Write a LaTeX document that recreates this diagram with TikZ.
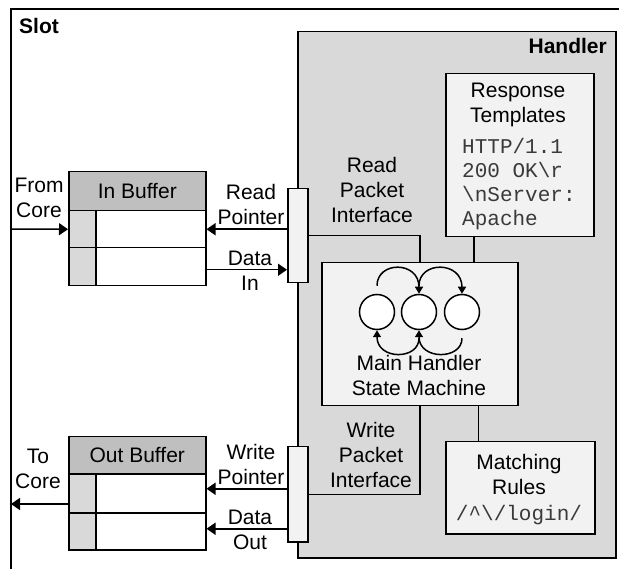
\documentclass[tikz,border=0pt]{standalone}
\usepackage{fontspec}
\setmainfont{Liberation Sans}
\setmonofont{Liberation Mono}
\usetikzlibrary{arrows.meta}
\definecolor{hdrgray}{HTML}{BFBFBF}
\definecolor{midgray}{HTML}{D9D9D9}
\definecolor{palegray}{HTML}{F2F2F2}
\definecolor{codeink}{HTML}{3A3A3A}
\tikzset{
  box/.style={draw, line width=1.5pt, inner sep=0pt, anchor=north west},
  lbl/.style={font=\fontsize{21}{25}\selectfont, align=center, inner sep=0pt},
  title/.style={font=\bfseries\fontsize{21}{25}\selectfont, inner sep=0pt},
  code/.style={font=\ttfamily\fontsize{21}{24}\selectfont, text=codeink, align=left, inner sep=0pt},
  wire/.style={line width=1.5pt},
  arr/.style={line width=1.5pt, -{Triangle[length=9pt,width=12pt]}},
  loopar/.style={line width=1.5pt, -{Triangle[length=7pt,width=8pt]}},
  state/.style={circle, draw, fill=white, line width=1.5pt, minimum size=35pt, inner sep=0pt},
}
\begin{document}
\begin{tikzpicture}[x=1pt,y=-1pt]
\useasboundingbox (0,0) rectangle (619,569);

% slot frame
\coordinate (slotbl) at (11,569);
\coordinate (slottr) at (619,9);
\draw[wire] (slotbl) |- (slottr);
\node[title, anchor=west] (slot) at (19,26) {Slot};

% handler region
\node[box, fill=midgray, minimum width=318pt, minimum height=526pt] (handler) at (297,31) {};
\node[title, anchor=east] (handlerlbl) at (607,46) {Handler};

% in buffer
\node[box, fill=hdrgray, minimum width=137pt, minimum height=39pt, lbl] (inhdr) at (68,171) {In Buffer};
\node[box, fill=midgray, minimum width=27pt, minimum height=37pt] (inc1) at (68,210) {};
\node[box, fill=white, minimum width=110pt, minimum height=37pt] (inr1) at (95,210) {};
\node[box, fill=midgray, minimum width=27pt, minimum height=38pt] (inc2) at (68,247) {};
\node[box, fill=white, minimum width=110pt, minimum height=38pt] (inr2) at (95,247) {};

% out buffer
\node[box, fill=hdrgray, minimum width=137pt, minimum height=37pt, lbl] (outhdr) at (68,436) {Out Buffer};
\node[box, fill=midgray, minimum width=27pt, minimum height=39pt] (outc1) at (68,473) {};
\node[box, fill=white, minimum width=110pt, minimum height=39pt] (outr1) at (95,473) {};
\node[box, fill=midgray, minimum width=27pt, minimum height=37pt] (outc2) at (68,512) {};
\node[box, fill=white, minimum width=110pt, minimum height=37pt] (outr2) at (95,512) {};

% inner boxes of the handler
\node[box, fill=palegray, minimum width=196pt, minimum height=143pt] (sm) at (321,262) {};
\node[box, fill=palegray, minimum width=148pt, minimum height=163pt] (rt) at (445,73) {};
\node[box, fill=palegray, minimum width=149pt, minimum height=92pt] (mr) at (445,441) {};

% wiring to the templates and rules
\draw[wire] ([xshift=-46pt]rt.south) -- ([xshift=-46pt]rt.south |- sm.north);
\draw[wire] ([xshift=-42pt]mr.north) -- ([xshift=-42pt]mr.north |- sm.south);

% packet interface bars
\node[box, fill=palegray, minimum width=20pt, minimum height=94pt] (rbar) at (287,188) {};
\node[box, fill=palegray, minimum width=20pt, minimum height=95pt] (wbar) at (287,446) {};
\draw[wire] (rbar.east) -| (sm.north);
\draw[wire] (wbar.east) -| (sm.south);

% state machine
\node[state] (s1) at (377,312) {};
\node[state] (s2) at (419,312) {};
\node[state] (s3) at (462,312) {};
\draw[loopar] ([yshift=8pt]s1.north) .. controls ([yshift=33pt]s1.north) and ([yshift=33pt]s2.north) .. (s2.north);
\draw[loopar] ([yshift=8pt]s2.north) .. controls ([yshift=33pt]s2.north) and ([yshift=33pt]s3.north) .. (s3.north);
\draw[loopar] ([yshift=-8pt]s3.south) .. controls ([yshift=-30pt]s3.south) and ([yshift=-30pt]s2.south) .. (s2.south);
\draw[loopar] ([yshift=-8pt]s2.south) .. controls ([yshift=-30pt]s2.south) and ([yshift=-30pt]s1.south) .. (s1.south);
\node[lbl] (smlbl) at (419,375) {Main Handler\\State Machine};

% response templates and matching rules
\node[lbl] (rtlbl) at (518,105) {Response\\Templates};
\node[code, anchor=west] (rtcode) at (462,184) {HTTP/1.1\\200 OK\textbackslash r\\\textbackslash nServer:\\Apache};
\node[lbl] (mrlbl) at (519,474) {Matching\\Rules};
\node[code] (mrcode) at (519,515) {/\textasciicircum\textbackslash/login/};

% data paths
\coordinate (corein) at (11,229);
\draw[arr] (corein) -- (inc1.west);
\draw[arr] (rbar.west |- inr1.east) -- (inr1.east);
\coordinate (din) at ([yshift=-3pt]inr2.east);
\draw[arr] (din) -- (din -| rbar.west);

\coordinate (wp) at ([yshift=4.5pt]outr1.east);
\draw[arr] (wp -| wbar.west) -- (wp);
\coordinate (dout) at ([yshift=2.5pt]outr2.east);
\draw[arr] (dout -| wbar.west) -- (dout);
\coordinate (coreout) at (11,504);
\draw[arr] (coreout -| outc1.west) -- (coreout);

% labels
\node[lbl] (fromcore) at (39,198) {From\\Core};
\node[lbl] (readptr) at (251,204) {Read\\Pointer};
\node[lbl] (datain) at (250,271) {Data\\In};
\node[lbl] (rpi) at (372,190) {Read\\Packet\\Interface};
\node[lbl] (wpi) at (371,455) {Write\\Packet\\Interface};
\node[lbl] (tocore) at (38,469) {To\\Core};
\node[lbl] (writeptr) at (251,464) {Write\\Pointer};
\node[lbl] (dataout) at (250,530) {Data\\Out};
\end{tikzpicture}
\end{document}
